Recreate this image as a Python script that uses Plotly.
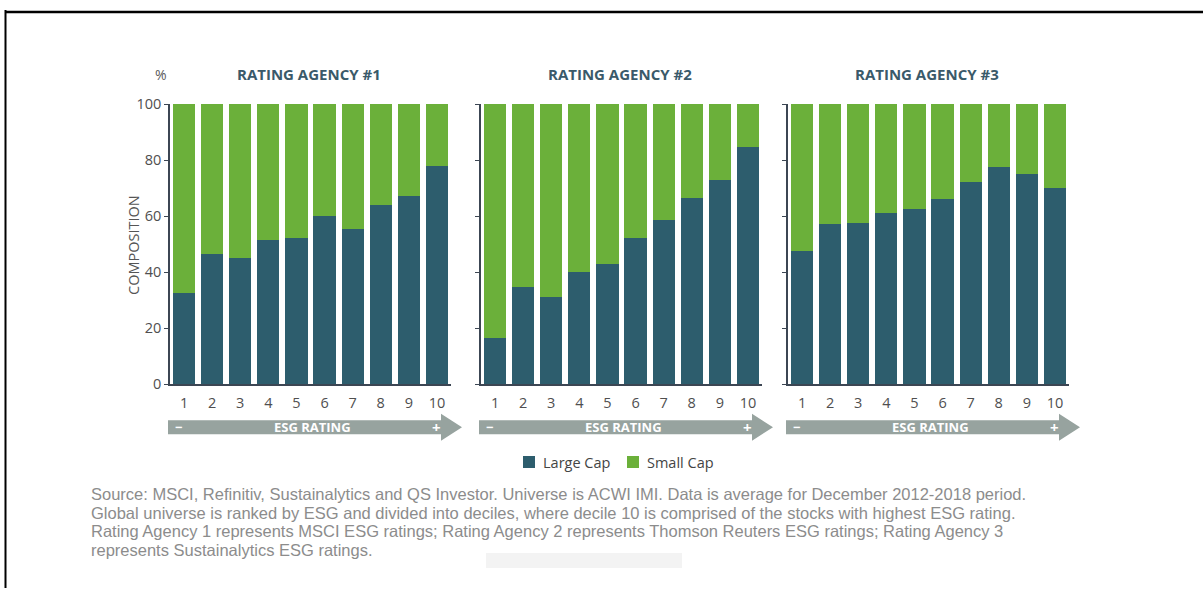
import plotly.graph_objects as go

# ESG rating deciles (1 = lowest, 10 = highest)
deciles = [1, 2, 3, 4, 5, 6, 7, 8, 9, 10]
decile_labels = ["1", "2", "3", "4", "5", "6", "7", "8", "9", "10"]

agency_titles = ["RATING AGENCY #1", "RATING AGENCY #2", "RATING AGENCY #3"]
series_names = ["Large Cap", "Small Cap"]

# Composition (%) of each decile
large_cap_1 = [32.5, 46.5, 45.0, 51.5, 52.0, 60.0, 55.5, 64.0, 67.0, 78.0]
small_cap_1 = [67.5, 53.5, 55.0, 48.5, 48.0, 40.0, 44.5, 36.0, 33.0, 22.0]

large_cap_2 = [16.5, 34.5, 31.0, 40.0, 43.0, 52.0, 58.5, 66.5, 73.0, 84.5]
small_cap_2 = [83.5, 65.5, 69.0, 60.0, 57.0, 48.0, 41.5, 33.5, 27.0, 15.5]

large_cap_3 = [47.5, 57.0, 57.5, 61.0, 62.5, 66.0, 72.0, 77.5, 75.0, 70.0]
small_cap_3 = [52.5, 43.0, 42.5, 39.0, 37.5, 34.0, 28.0, 22.5, 25.0, 30.0]

y_ticks = [0, 20, 40, 60, 80, 100]

source_lines = [
    "Source: MSCI, Refinitiv, Sustainalytics and QS Investor. Universe is ACWI IMI. Data is average for December 2012-2018 period.",
    "Global universe is ranked by ESG and divided into deciles, where decile 10 is comprised of the stocks with highest ESG rating.",
    "Rating Agency 1 represents MSCI ESG ratings; Rating Agency 2 represents Thomson Reuters ESG ratings; Rating Agency 3",
    "represents Sustainalytics ESG ratings.",
]

W, H = 1203, 597
LARGE = "#2d5d6d"
SMALL = "#6bb03a"
AXIS = "#3c4653"
TICK = "#4f4f4f"
TITLE = "#3a5a6a"
ARROW = "#97a39f"
NOTE = "#8c8c8c"
FONT = "Open Sans"

# vertical placement: page rows are mapped onto the paper band between TOP_PX and BOTTOM_PX
TOP_PX, BOTTOM_PX = 9.0, 587.0


def px(x):
    return x / W


def py(y):
    return 1 - (y - TOP_PX) / (BOTTOM_PX - TOP_PX)


# horizontal pixel extents of the three panels
panels = [(170, 451), (481, 762), (788, 1069)]
plot_top, plot_bottom = 103, 383

large = [large_cap_1, large_cap_2, large_cap_3]
small = [small_cap_1, small_cap_2, small_cap_3]

fig = go.Figure()
layout = dict(
    width=W, height=H, autosize=False,
    margin=dict(l=0, r=0, t=0, b=0),
    paper_bgcolor="white", plot_bgcolor="white",
    barmode="stack", bargap=0.21,
    font=dict(family=FONT, color=TICK),
    showlegend=False,
)

annotations = []
shapes = []

for k in range(3):
    sfx = "" if k == 0 else str(k + 1)
    L, R = panels[k]
    fig.add_trace(go.Bar(x=deciles, y=large[k], name=series_names[0], marker=dict(color=LARGE, line=dict(width=0)),
                         xaxis="x" + sfx, yaxis="y" + sfx))
    fig.add_trace(go.Bar(x=deciles, y=small[k], name=series_names[1], marker=dict(color=SMALL, line=dict(width=0)),
                         xaxis="x" + sfx, yaxis="y" + sfx))

    layout["xaxis" + sfx] = dict(
        domain=[px(L), px(R)], range=[0.5, 10.5], tickvals=deciles, ticktext=decile_labels,
        ticks="", showline=True, linecolor=AXIS, linewidth=1.5, showgrid=False, zeroline=False,
        tickfont=dict(size=14.5, color=TICK, family=FONT), anchor="y" + sfx, fixedrange=True,
        ticklabelstandoff=5,
    )
    layout["yaxis" + sfx] = dict(
        domain=[py(plot_bottom), py(plot_top)], range=[0, 100], tickvals=y_ticks,
        ticks="outside", ticklen=4, tickcolor=AXIS, tickwidth=1.2, showline=True, linecolor=AXIS,
        linewidth=1.5, showgrid=False, zeroline=False, showticklabels=(k == 0),
        tickfont=dict(size=14.5, color=TICK, family=FONT), anchor="x" + sfx, fixedrange=True,
    )

    # panel title
    annotations.append(dict(text="<b>" + agency_titles[k] + "</b>", x=px((L + R) / 2 - 2), y=py(73),
                            xref="paper", yref="paper", showarrow=False, xanchor="center", yanchor="middle",
                            font=dict(size=15, color=TITLE, family=FONT)))

    # ESG rating arrow under each panel
    left, tip = L - 2, R + 11
    base = tip - 21
    yc, body, head = 426.3, 7.0, 13.5
    path = (f"M {px(left)},{py(yc - body)} L {px(base)},{py(yc - body)} L {px(base)},{py(yc - head)} "
            f"L {px(tip)},{py(yc)} L {px(base)},{py(yc + head)} L {px(base)},{py(yc + body)} "
            f"L {px(left)},{py(yc + body)} Z")
    shapes.append(dict(type="path", path=path, xref="paper", yref="paper", fillcolor=ARROW,
                       line=dict(width=0), layer="above"))
    annotations.append(dict(text="<b>ESG RATING</b>", x=px((L + R) / 2 + 2), y=py(yc), xref="paper", yref="paper",
                            showarrow=False, xanchor="center", yanchor="middle",
                            font=dict(size=13, color="white", family=FONT)))
    annotations.append(dict(text="<b>−</b>", x=px(L + 8), y=py(yc), xref="paper", yref="paper",
                            showarrow=False, xanchor="center", yanchor="middle",
                            font=dict(size=13, color="white", family=FONT)))
    annotations.append(dict(text="<b>+</b>", x=px(tip - 26), y=py(yc), xref="paper", yref="paper",
                            showarrow=False, xanchor="center", yanchor="middle",
                            font=dict(size=15, color="white", family=FONT)))

# unit and axis label
annotations.append(dict(text="%", x=px(161), y=py(73), xref="paper", yref="paper", showarrow=False,
                        xanchor="center", yanchor="middle", font=dict(size=14, color="#5a5a5a", family=FONT)))
annotations.append(dict(text="COMPOSITION", x=px(133), y=py(244), xref="paper", yref="paper", showarrow=False,
                        textangle=-90, xanchor="center", yanchor="middle",
                        font=dict(size=14.5, color="#555555", family=FONT)))

# legend: colour swatch followed by the series name
for name, color, x0 in [(series_names[0], LARGE, 523), (series_names[1], SMALL, 627)]:
    shapes.append(dict(type="rect", x0=px(x0), x1=px(x0 + 12), y0=py(467), y1=py(455), xref="paper",
                       yref="paper", fillcolor=color, line=dict(width=0)))
    annotations.append(dict(text=name, x=px(x0 + 18), y=py(461), xref="paper", yref="paper", showarrow=False,
                            xanchor="left", yanchor="middle", font=dict(size=14.5, color="#444444", family=FONT)))

# source note
for i, line in enumerate(source_lines):
    annotations.append(dict(text=line, x=px(89), y=py(493 + i * 18.5), xref="paper", yref="paper",
                            showarrow=False, xanchor="left", yanchor="middle", align="left",
                            font=dict(size=16.5, color=NOTE, family="Liberation Sans")))

# frame lines along the top and left edges
shapes.append(dict(type="line", x0=px(5.5), x1=px(5.5), y0=0, y1=1, xref="paper", yref="paper",
                   line=dict(color="black", width=2)))
shapes.append(dict(type="line", x0=px(5), x1=1, y0=py(11), y1=py(11), xref="paper", yref="paper",
                   line=dict(color="black", width=2.5)))
# faint pale bar below the note
shapes.append(dict(type="rect", x0=px(486), x1=px(682), y0=py(552), y1=py(567), xref="paper", yref="paper",
                   fillcolor="#f3f3f3", line=dict(width=0), layer="below"))

layout["annotations"] = annotations
layout["shapes"] = shapes
fig.update_layout(**layout)

fig.write_html("out.html", config={"displayModeBar": False})
